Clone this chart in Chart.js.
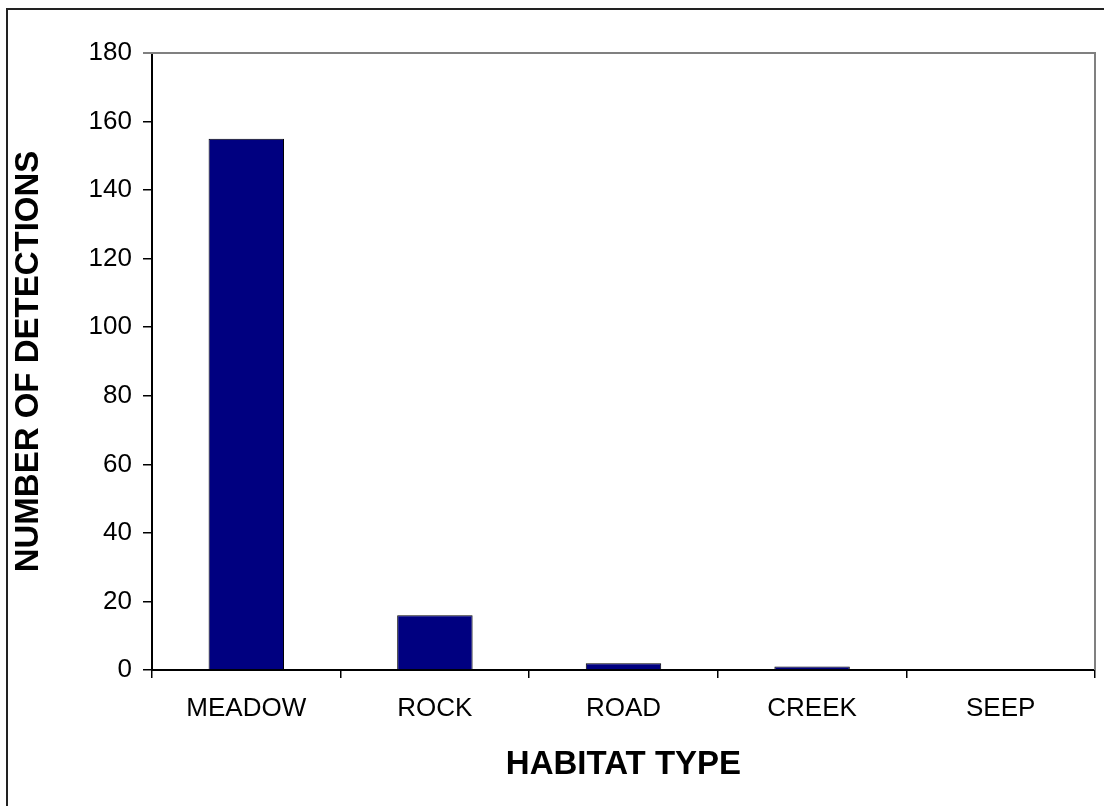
<!DOCTYPE html>
<html>
<head>
<meta charset="utf-8">
<script src="https://cdn.jsdelivr.net/npm/chart.js@4.4.0/dist/chart.umd.min.js"></script>
<style>
  html, body { margin: 0; padding: 0; background: #fff; }
  #wrap { position: relative; width: 1104px; height: 806px; }
</style>
</head>
<body>
<div id="wrap"><canvas id="myChart" width="1104" height="806"></canvas></div>
<script>
const habitats = ['MEADOW', 'ROCK', 'ROAD', 'CREEK', 'SEEP'];
const detections = [155, 16, 2, 1, 0];
const yMin = 0;
const yMax = 180;
const yStep = 20;

const FONT = "'Liberation Sans', Arial, sans-serif";

// outer frame (top + left only) and grey plot-area box
const framePlugin = {
    id: 'frame',
    beforeDatasetsDraw(chart) {
        const { ctx, chartArea } = chart;
        ctx.save();
        ctx.strokeStyle = '#808080';
        ctx.lineWidth = 2;
        ctx.beginPath();
        ctx.moveTo(chartArea.left - 9, chartArea.top);
        ctx.lineTo(chartArea.right, chartArea.top);
        ctx.lineTo(chartArea.right, chartArea.bottom);
        ctx.stroke();
        ctx.restore();
    },
    afterDraw(chart) {
        const { ctx, width, height } = chart;
        ctx.save();
        ctx.strokeStyle = '#222';
        ctx.lineWidth = 2;
        ctx.beginPath();
        ctx.moveTo(width, 9);
        ctx.lineTo(7, 9);
        ctx.lineTo(7, height);
        ctx.stroke();
        ctx.restore();
    }
};

const ctx = document.getElementById('myChart').getContext('2d');

const myChart = new Chart(ctx, {
    type: 'bar',
    data: {
        labels: habitats,
        datasets: [{
            label: 'Number of detections',
            data: detections,
            backgroundColor: '#000080',
            borderColor: '#000000',
            borderWidth: 1,
            barPercentage: 0.4,
            categoryPercentage: 1
        }]
    },
    options: {
        responsive: false,
        animation: false,
        layout: { padding: { top: 53, right: 9, left: 0, bottom: 0 } },
        plugins: {
            legend: { display: false },
            tooltip: { enabled: false }
        },
        scales: {
            x: {
                afterFit: (scale) => { scale.height = 136; },
                grid: {
                    offset: true,
                    drawOnChartArea: false,
                    tickLength: 8,
                    color: '#000',
                    lineWidth: 1.5
                },
                border: { color: '#000', width: 2 },
                ticks: {
                    color: '#000',
                    padding: 15,
                    font: { family: FONT, size: 26 }
                },
                title: {
                    display: true,
                    text: 'HABITAT TYPE',
                    color: '#000',
                    font: { family: FONT, size: 33, weight: 'bold', lineHeight: 1.2 },
                    padding: { top: 0, bottom: 21 }
                }
            },
            y: {
                min: yMin,
                max: yMax,
                afterFit: (scale) => { scale.width = 152; },
                grid: {
                    drawOnChartArea: false,
                    tickLength: 9,
                    color: '#000',
                    lineWidth: 1.5
                },
                border: { color: '#000', width: 2 },
                ticks: {
                    stepSize: yStep,
                    color: '#000',
                    padding: 11,
                    font: { family: FONT, size: 26 }
                },
                title: {
                    display: true,
                    text: 'NUMBER OF DETECTIONS',
                    color: '#000',
                    font: { family: FONT, size: 33, weight: 'bold', lineHeight: 1.2 },
                    padding: { top: 9, bottom: 0 }
                }
            }
        }
    },
    plugins: [framePlugin]
});
</script>
</body>
</html>
